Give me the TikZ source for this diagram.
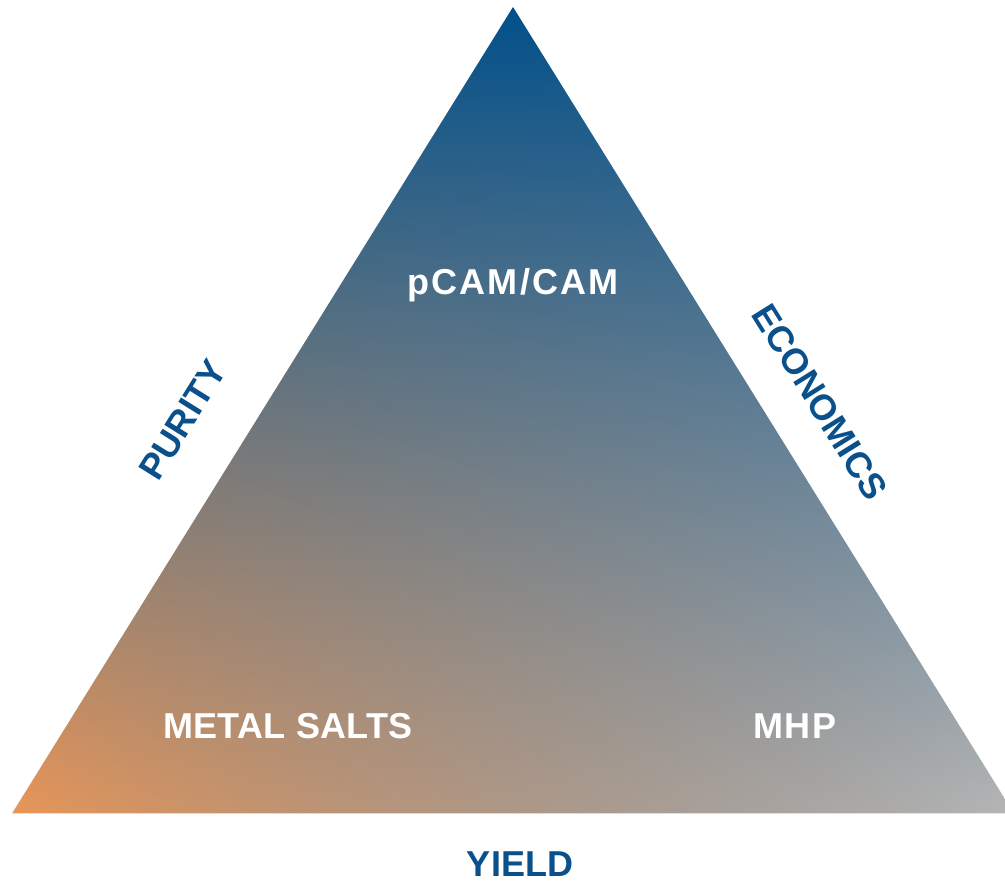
\documentclass[tikz,border=0pt]{standalone}
\usepackage{fontspec}
\setmainfont{Liberation Sans}
\definecolor{labelblue}{HTML}{0A508A}
% colour = B + (1-t)((O-B) + s(G-O)) + K s(1-s)(1-t)^3
% O = orange (bottom left), G = grey (bottom right), B = blue (top)
\pgfdeclarefunctionalshading{trigrad}{\pgfpoint{0bp}{0bp}}{\pgfpoint{100bp}{100bp}}{}{
  25 sub 50 div
  exch 25 sub 50 div
  exch
  1 exch sub
  1 index dup 1 exch sub mul
  1 index dup dup mul mul mul
  2 index -0.200 mul 0.902 add 2 index mul 1 index -0.510 mul add 0.008 add
  3 index 0.122 mul 0.274 add 3 index mul 2 index -0.216 mul add 0.314 add
  4 index 0.365 mul -0.196 add 4 index mul 3 index 0.0 mul add 0.541 add
  6 3 roll pop pop pop
}
\begin{document}
\begin{tikzpicture}[x=1pt,y=1pt,
  inlabel/.style={text=white,font=\fontsize{36}{40}\selectfont\bfseries,anchor=base,inner sep=0pt},
  sidelabel/.style={text=labelblue,font=\fontsize{36}{40}\selectfont\bfseries,inner sep=0pt}]
\useasboundingbox (0,0) rectangle (1005,884);
\coordinate (apex) at (513,877);
\coordinate (bl) at (12,70.5);
\coordinate (br) at (1014,70.5);
\shade[shading=trigrad] (apex) -- (bl) -- (br) -- cycle;
\node[inlabel] (cam) at (513,589) {\addfontfeatures{LetterSpace=6}pCAM/CAM};
\node[inlabel] (salts) at (288,145) {\addfontfeatures{LetterSpace=1}METAL SALTS};
\node[inlabel] (mhp) at (795,145) {\addfontfeatures{LetterSpace=4}MHP};
\node[sidelabel,anchor=base] (yield) at (520,7) {YIELD};
\node[sidelabel,rotate=58] (purity) at (183,464) {PURITY};
\node[sidelabel,rotate=-58] (econ) at (820,482) {ECONOMICS};
\end{tikzpicture}
\end{document}
